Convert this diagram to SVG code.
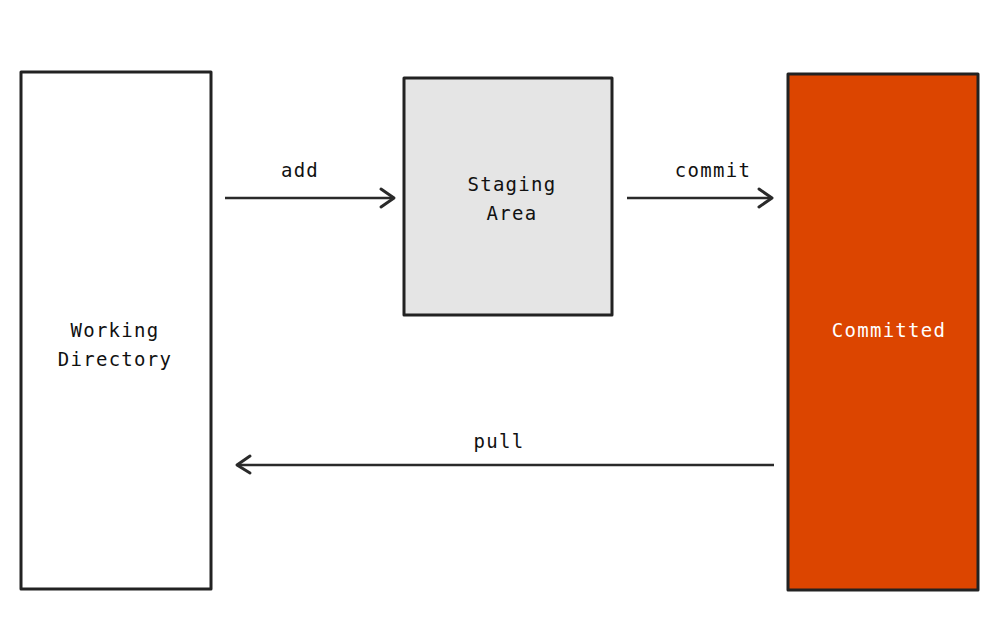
<svg xmlns="http://www.w3.org/2000/svg" width="994" height="633" viewBox="0 0 994 633">
<defs>
<style>
.box{stroke:#222;stroke-width:3;stroke-linejoin:round}
.t{font-family:"DejaVu Sans Mono","Liberation Mono",monospace;font-size:19px;fill:#111;text-anchor:middle;letter-spacing:1.3px}
.edge{stroke:#2a2a2a;stroke-width:2.5;fill:none}
.head{stroke:#2a2a2a;stroke-width:3;fill:none;stroke-linecap:round;stroke-linejoin:round}
</style>
</defs>
<rect width="994" height="633" fill="#fff"/>
<g id="working">
<rect class="box" x="21" y="72" width="190" height="517" fill="#fff"/>
<text class="t" x="115" y="337">Working</text>
<text class="t" x="115" y="366">Directory</text>
</g>
<g id="staging">
<rect class="box" x="404" y="78" width="208" height="237" fill="#e5e5e5"/>
<text class="t" x="512" y="191">Staging</text>
<text class="t" x="512" y="220">Area</text>
</g>
<g id="committed">
<rect class="box" x="788" y="74" width="190" height="516" fill="#dc4500"/>
<text class="t" x="889" y="337" style="fill:#fff">Committed</text>
</g>
<g id="connectors">
<line class="edge" x1="225" y1="198" x2="394" y2="198"/>
<polyline class="head" points="381,189 394,198 381,207"/>
<text class="t" x="300" y="177">add</text>
<line class="edge" x1="627" y1="198" x2="772" y2="198"/>
<polyline class="head" points="759,189 772,198 759,207"/>
<text class="t" x="713" y="177">commit</text>
<line class="edge" x1="774" y1="465" x2="237" y2="465"/>
<polyline class="head" points="250,456 237,465 250,473"/>
<text class="t" x="499" y="448">pull</text>
</g>
</svg>
